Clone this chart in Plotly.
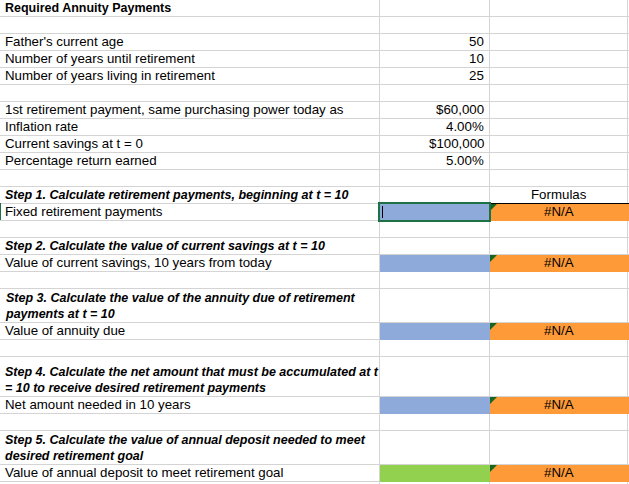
"""Spreadsheet view: Required Annuity Payments worksheet, redrawn as a Plotly figure."""
import plotly.graph_objects as go

# --- sheet content -------------------------------------------------------
LABELS = [
    "Required Annuity Payments",
    "",
    "Father's current age",
    "Number of years until retirement",
    "Number of years living in retirement",
    "",
    "1st retirement payment, same purchasing power today as",
    "Inflation rate",
    "Current savings at t = 0",
    "Percentage return earned",
    "",
    "Step 1. Calculate retirement payments, beginning at t = 10",
    "Fixed retirement payments",
    "",
    "Step 2. Calculate the value of current savings at t = 10",
    "Value of current savings, 10 years from today",
    "",
    "Step 3. Calculate the value of the annuity due of retirement<br>payments at t = 10",
    "Value of annuity due",
    "",
    "Step 4. Calculate the net amount that must be accumulated at t<br>= 10 to receive desired retirement payments",
    "Net amount needed in 10 years",
    "",
    "Step 5. Calculate the value of annual deposit needed to meet<br>desired retirement goal",
    "Value of annual deposit to meet retirement goal",
    "",
]
INPUT_VALUES = [None, None, 50, 10, 25, None, 60000, 0.04, 100000, 0.05] + [None] * 16
INPUT_KINDS = [None, None, "n", "n", "n", None, "$", "%", "$", "%"] + [None] * 16
FORMULAS_HEADER_ROW = 11
ANSWER_ROWS = [12, 15, 18, 21, 24]
ANSWER_RESULTS = ["#N/A", "#N/A", "#N/A", "#N/A", "#N/A"]
ANSWER_KIND = ["calc", "calc", "calc", "calc", "goal"]
SELECTED_ROW = 12

# --- sheet geometry / style ---------------------------------------------
ROW_HEIGHTS = [16] + [17] * 16 + [34, 17, 17, 40, 17, 17, 34, 17, 17]
COL_EDGES = [0, 379, 489, 627]
W, H = 629, 484
GRID = "#d4d4d4"
FILLS = {"calc": "#8eaadb", "goal": "#92d050"}
ORANGE = "#fe9a38"
NOTE_GREEN = "#17661f"
SELECT_GREEN = "#1e7145"
FONT = "Arial, Liberation Sans, sans-serif"
FS = 13.3      # regular cell text
FS_B = 12.5    # bold / bold-italic headings


def fmt(v, kind):
    if v is None:
        return ""
    if kind == "$":
        return f"${v:,.0f}"
    if kind == "%":
        return f"{v * 100:.2f}%"
    return f"{v:g}"


def txt_font(size=FS):
    return dict(family=FONT, size=size, color="#000")


tops = [0]
for h in ROW_HEIGHTS:
    tops.append(tops[-1] + h)

shapes, annotations = [], []

# gridlines
for y in tops[1:]:
    if y < H:
        shapes.append(dict(type="line", x0=0, x1=W, y0=y + 0.5, y1=y + 0.5,
                           line=dict(color=GRID, width=1)))
for x in COL_EDGES[1:]:
    shapes.append(dict(type="line", x0=x + 0.5, x1=x + 0.5, y0=0, y1=H,
                       line=dict(color=GRID, width=1)))

# answer cells: coloured input cell in B, orange formula check in C
for r, kind, res in zip(ANSWER_ROWS, ANSWER_KIND, ANSWER_RESULTS):
    y0, y1 = tops[r] + 1, tops[r + 1] + 1
    shapes.append(dict(type="rect", x0=COL_EDGES[1] + 1, x1=COL_EDGES[2] + 1, y0=y0, y1=y1,
                       fillcolor=FILLS[kind], line=dict(width=0), layer="above"))
    shapes.append(dict(type="rect", x0=COL_EDGES[2] + 1, x1=W, y0=y0, y1=y1,
                       fillcolor=ORANGE, line=dict(width=0), layer="above"))
    xn = COL_EDGES[2] + 1
    shapes.append(dict(type="path", path=f"M {xn},{y0} L {xn + 7},{y0} L {xn},{y0 + 7} Z",
                       fillcolor=NOTE_GREEN, line=dict(width=0)))
    annotations.append(dict(x=(COL_EDGES[2] + COL_EDGES[3]) / 2 + 1, y=tops[r + 1], text=res,
                            xanchor="center", yanchor="bottom", yshift=-1, showarrow=False,
                            font=txt_font()))

# "Formulas" header with its bottom border
r = FORMULAS_HEADER_ROW
annotations.append(dict(x=(COL_EDGES[2] + COL_EDGES[3]) / 2 + 1, y=tops[r + 1], text="Formulas",
                        xanchor="center", yanchor="bottom", yshift=-1, showarrow=False,
                        font=txt_font()))
shapes.append(dict(type="line", x0=COL_EDGES[2], x1=W, y0=tops[r + 1] + 0.5, y1=tops[r + 1] + 0.5,
                   line=dict(color="#000", width=1)))

# selected cell, caret, row marker
r = SELECTED_ROW
shapes.append(dict(type="rect", x0=COL_EDGES[1], x1=COL_EDGES[2] + 1,
                   y0=tops[r], y1=tops[r + 1] + 1, line=dict(color=SELECT_GREEN, width=2)))
shapes.append(dict(type="line", x0=COL_EDGES[1] + 3.5, x1=COL_EDGES[1] + 3.5,
                   y0=tops[r] + 3, y1=tops[r + 1] - 2, line=dict(color="#000", width=1)))
shapes.append(dict(type="line", x0=0.5, x1=0.5, y0=tops[r], y1=tops[r + 1],
                   line=dict(color=SELECT_GREEN, width=1)))

# column A labels and column B inputs
for i, lab in enumerate(LABELS):
    if lab:
        txt, size = lab, FS
        if i == 0:
            txt, size = f"<b>{lab}</b>", FS_B
        elif lab.startswith("Step"):
            txt, size = f"<b><i>{lab}</i></b>", FS_B
        annotations.append(dict(x=3, y=tops[i + 1], text=txt, align="left",
                                xanchor="left", yanchor="bottom", yshift=-1, showarrow=False,
                                font=txt_font(size)))
    val = fmt(INPUT_VALUES[i], INPUT_KINDS[i])
    if val:
        annotations.append(dict(x=COL_EDGES[2] - 3, y=tops[i + 1], text=val,
                                xanchor="right", yanchor="bottom", yshift=-1, showarrow=False,
                                font=txt_font()))

fig = go.Figure()
fig.update_layout(
    width=W, height=H, autosize=False,
    margin=dict(l=0, r=0, t=0, b=0, pad=0),
    plot_bgcolor="white", paper_bgcolor="white",
    shapes=shapes, annotations=annotations, showlegend=False,
)
fig.update_xaxes(range=[0, W], visible=False, fixedrange=True)
fig.update_yaxes(range=[H, 0], visible=False, fixedrange=True)
fig.write_html("out.html", config={"displayModeBar": False},
               post_script="document.body.style.margin='0';document.body.style.overflow='hidden';")
